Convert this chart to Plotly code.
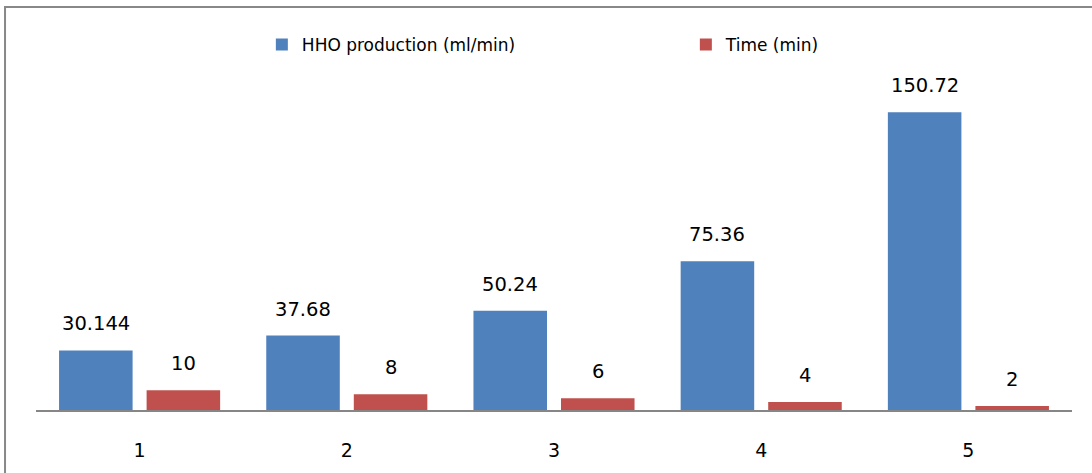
import plotly.graph_objects as go

categories = ["1", "2", "3", "4", "5"]
hho_production = [30.144, 37.68, 50.24, 75.36, 150.72]
time_min = [10, 8, 6, 4, 2]
hho_labels = ["30.144", "37.68", "50.24", "75.36", "150.72"]
time_labels = ["10", "8", "6", "4", "2"]

BLUE = "#4F81BD"
RED = "#C0504D"
FONT = "DejaVu Sans"

fig = go.Figure()
fig.add_trace(go.Bar(x=categories, y=hho_production, name="HHO production (ml/min)",
                     marker=dict(color=BLUE, line=dict(width=0))))
fig.add_trace(go.Bar(x=categories, y=time_min, name="Time (min)",
                     marker=dict(color=RED, line=dict(width=0))))

shift = 43.75
for i, (v, t) in enumerate(zip(hho_production, hho_labels)):
    fig.add_annotation(x=i, y=v, text=t, xref="x", yref="y", showarrow=False,
                       xshift=-shift, yanchor="bottom", yshift=13,
                       font=dict(family=FONT, size=19.5, color="#000000"))
for i, (v, t) in enumerate(zip(time_min, time_labels)):
    fig.add_annotation(x=i, y=v, text=t, xref="x", yref="y", showarrow=False,
                       xshift=shift, yanchor="bottom", yshift=13,
                       font=dict(family=FONT, size=19.5, color="#000000"))

# outer chart border (only top and left visible in the crop)
fig.add_shape(type="rect", xref="paper", yref="paper",
              x0=-0.0299, x1=1.2, y0=-0.5, y1=1.2753,
              line=dict(color="#888888", width=2), fillcolor="rgba(0,0,0,0)", layer="below")

fig.update_layout(
    width=1092, height=473,
    margin=dict(l=36, r=20, t=94, b=63, autoexpand=False),
    paper_bgcolor="white", plot_bgcolor="white",
    barmode="group", bargap=0.155, bargroupgap=0.16,
    font=dict(family=FONT, color="#000000"),
    showlegend=True,
    legend=dict(orientation="h", x=0.218, xanchor="left", y=1.155, yanchor="middle",
                entrywidth=379, entrywidthmode="pixels", itemwidth=30,
                font=dict(family=FONT, size=17, color="#000000"),
                itemclick=False, itemdoubleclick=False),
    xaxis=dict(type="category", range=[-0.5, 4.5], showline=True, linecolor="#868686",
               linewidth=2, showgrid=False, automargin=False,
               ticks="", ticklabelstandoff=22,
               tickfont=dict(family=FONT, size=19, color="#000000")),
    yaxis=dict(range=[0, 160], visible=False, showgrid=False, zeroline=False, automargin=False),
)

fig.write_html("out.html", config={"displayModeBar": False},
               post_script="document.body.style.margin='0';document.body.style.overflow='hidden';")
